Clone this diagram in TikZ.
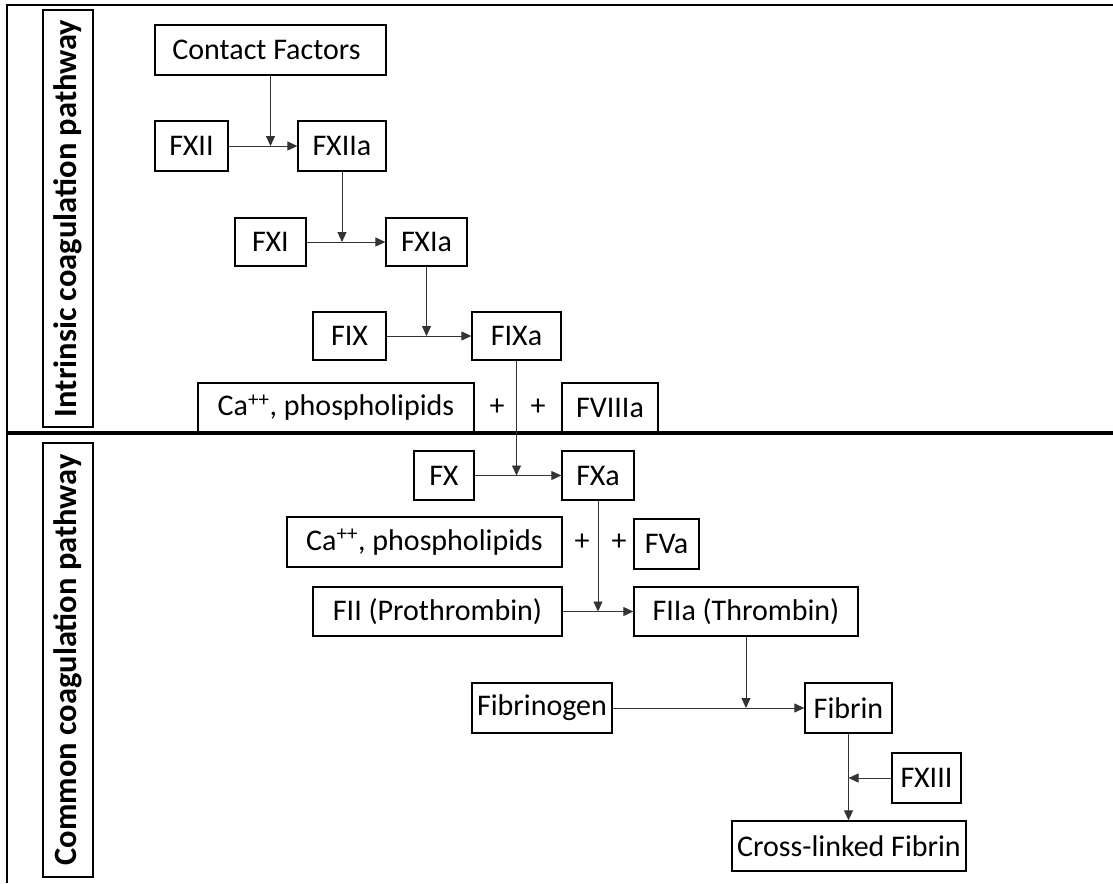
\documentclass[tikz,border=0pt]{standalone}
\usepackage{fontspec}
\setmainfont{Carlito}
\usetikzlibrary{arrows.meta}
\tikzset{
  box/.style={draw=black, line width=1.3pt, inner sep=0pt, minimum height=49pt, font=\fontsize{30}{34}\selectfont},
  lab/.style={draw=black, line width=1.3pt, inner sep=0pt, rotate=90, minimum height=50pt, font=\fontsize{32.5}{36}\selectfont\bfseries},
  plus/.style={inner sep=0pt, font=\fontsize{30}{34}\selectfont},
  conn/.style={draw=black!80, line width=0.9pt},
  arr/.style={conn, -{Triangle[length=10pt,width=9pt]}},
  frame/.style={draw=black, line width=2.2pt},
  divider/.style={draw=black, line width=3.2pt}
}
\begin{document}
\begin{tikzpicture}[x=1pt,y=-1pt]
\useasboundingbox (0,0) rectangle (1113,883);
% frame
\draw[frame] (1113,5) -- (7,5) -- (7,883);
\draw[divider] (7,433) -- (1113,433);
% side labels
\node[lab, minimum width=417pt] (lint) at (68,218.5) {Intrinsic coagulation pathway};
\node[lab, minimum width=434pt] (lcom) at (68,660) {Common coagulation pathway};
% nodes
\node[box, minimum width=231pt, minimum height=50pt] (cf) at (270.5,50) {Contact Factors\hspace*{8pt}};
\node[box, minimum width=73pt, minimum height=50pt] (fxii) at (191.5,146) {FXII};
\node[box, minimum width=88pt, minimum height=50pt] (fxiia) at (342,146) {FXIIa};
\node[box, minimum width=71pt, minimum height=48pt] (fxi) at (270.5,242) {FXI};
\node[box, minimum width=81pt, minimum height=48pt] (fxia) at (426.5,242) {FXIa};
\node[box, minimum width=73pt, minimum height=48pt] (fix) at (349.5,336) {FIX};
\node[box, minimum width=89pt, minimum height=48pt] (fixa) at (516.5,336) {FIXa};
\node[box, minimum width=276pt] (ca1) at (336,407.5) {Ca\textsuperscript{++}, phospholipids};
\node[plus] (p1) at (497,407) {+};
\node[plus] (p2) at (538,407) {+};
\node[box, minimum width=96pt] (fviiia) at (610,407.5) {FVIIIa};
\node[box, minimum width=60pt] (fx) at (444,475.5) {FX};
\node[box, minimum width=72pt] (fxa) at (598,475.5) {FXa};
\node[box, minimum width=275pt, minimum height=50pt] (ca2) at (424.5,542) {Ca\textsuperscript{++}, phospholipids};
\node[plus] (p3) at (582,542) {+};
\node[plus] (p4) at (619,542) {+};
\node[box, minimum width=65pt, minimum height=50pt] (fva) at (666.5,544) {FVa};
\node[box, minimum width=249pt] (fii) at (437.5,611.5) {FII (Prothrombin)};
\node[box, minimum width=224pt] (fiia) at (746,611.5) {FIIa (Thrombin)};
\node[box, minimum width=140pt, minimum height=50pt] (fbg) at (542,708) {Fibrinogen};
\node[box, minimum width=87pt, minimum height=50pt] (fbn) at (848.5,708) {Fibrin};
\node[box, minimum width=69pt, minimum height=50pt] (fxiii) at (926.5,778) {FXIII};
\node[box, minimum width=234pt, minimum height=50pt] (xlf) at (849,846) {Cross-linked Fibrin};
% connectors
\draw[arr] (fxii) -- (fxiia);
\draw[arr] (cf.south) -- (cf.south |- fxii.east);
\draw[arr] (fxi) -- (fxia);
\draw[arr] (fxiia.south) -- (fxiia.south |- fxi.east);
\draw[arr] (fix) -- (fixa);
\draw[arr] (fxia.south) -- (fxia.south |- fix.east);
\draw[arr] (fx) -- (fxa);
\draw[arr] (fixa.south) -- (fixa.south |- fx.east);
\draw[arr] (fii) -- (fiia);
\draw[arr] (fxa.south) -- (fxa.south |- fii.east);
\draw[arr] (fbg) -- (fbn);
\draw[arr] (fiia.south) -- (fiia.south |- fbg.east);
\draw[arr] (fbn.south) -- (fbn.south |- xlf.north);
\draw[arr] (fxiii.west) -- (fbn.south |- fxiii.west);
\end{tikzpicture}
\end{document}
